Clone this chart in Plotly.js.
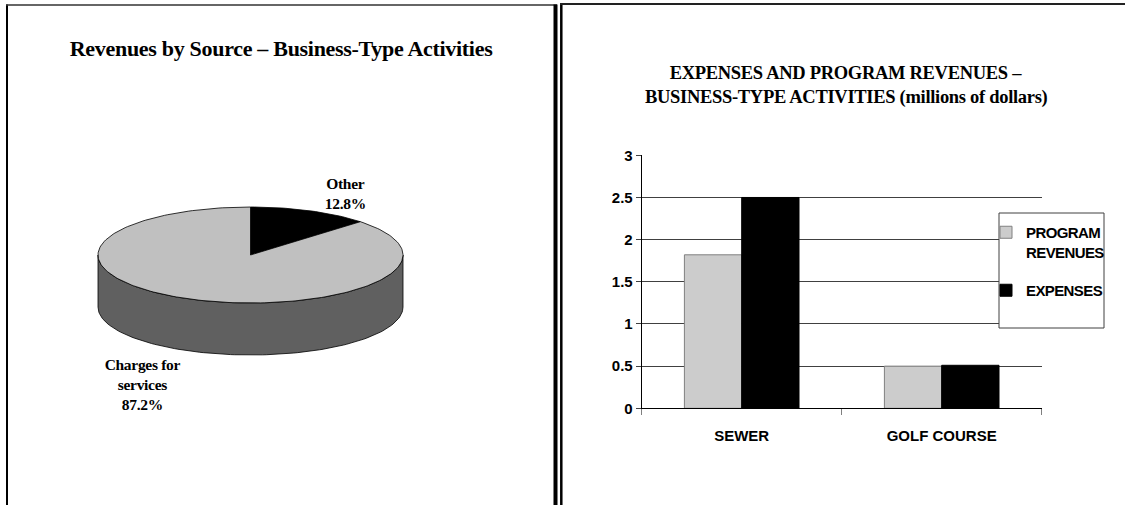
<!DOCTYPE html>
<html><head><meta charset="utf-8">
<script src="https://cdn.plot.ly/plotly-3.0.1.min.js"></script>
<style>
html,body{margin:0;padding:0;background:#fff}#chart{width:1125px;height:505px}
#chart .annotation-text{letter-spacing:-0.3px}
#chart .legendtext{letter-spacing:-0.6px}
</style>
</head><body><div id="chart"></div>
<script>
// ---------- data ----------
const pieLabels = ["Charges for<br>services", "Other"];
const pieValues = [87.2, 12.8];
const pieTopColors = ["#c0c0c0", "#000000"];
const pieSideColors = ["#606060", "#000000"];
const pieOrder = [1, 0]; // "Other" starts at 12 o'clock, clockwise

const barCategories = ["SEWER", "GOLF COURSE"];
const programRevenues = [1.82, 0.50];
const expenses = [2.50, 0.51];
const yTickVals = [0, 0.5, 1, 1.5, 2, 2.5, 3];
const yTickText = ["0", "0.5", "1", "1.5", "2", "2.5", "3"];

// ---------- pie geometry (pixel-space axes x2/y2) ----------
const W = 1125, H = 505;
const cx = 250.5, cy = 255, rx = 152.5, ry = 48, depth = 52;
function pt(frac, dy) {
  const t = frac * 2 * Math.PI;
  return [cx + rx * Math.sin(t), cy - ry * Math.cos(t) + dy];
}
function arc(a, b, dy) {
  const n = Math.max(2, Math.ceil((b - a) * 240));
  const out = [];
  for (let i = 0; i <= n; i++) out.push(pt(a + (b - a) * i / n, dy));
  return out;
}
const total = pieValues.reduce((s, v) => s + v, 0);
let acc = 0;
const ranges = [];
pieOrder.forEach(i => { const a = acc / total; acc += pieValues[i]; ranges[i] = [a, acc / total]; });

const traces = [];
// side walls (front half only: frac 0.25..0.75)
pieOrder.forEach(i => {
  const s = Math.max(ranges[i][0], 0.25), e = Math.min(ranges[i][1], 0.75);
  if (s < e) {
    const poly = arc(s, e, 0).concat(arc(s, e, depth).reverse());
    poly.push(poly[0]);
    traces.push({type: 'scatter', mode: 'lines', xaxis: 'x2', yaxis: 'y2',
      x: poly.map(p => p[0]), y: poly.map(p => p[1]), fill: 'toself',
      fillcolor: pieSideColors[i], line: {color: '#000', width: 0.8},
      hoverinfo: 'skip', showlegend: false});
  }
});
// top faces
pieOrder.forEach(i => {
  const poly = [[cx, cy]].concat(arc(ranges[i][0], ranges[i][1], 0));
  poly.push([cx, cy]);
  traces.push({type: 'scatter', mode: 'lines', xaxis: 'x2', yaxis: 'y2',
    x: poly.map(p => p[0]), y: poly.map(p => p[1]), fill: 'toself',
    fillcolor: pieTopColors[i], line: {color: '#000', width: 0.8},
    hoverinfo: 'skip', showlegend: false});
});

// ---------- bars ----------
traces.push({type: 'bar', name: 'PROGRAM<br>REVENUES', x: barCategories, y: programRevenues,
  marker: {color: '#cccccc', line: {color: '#808080', width: 1}}, legendgroup: 'a', hoverinfo: 'skip'});
traces.push({type: 'bar', name: 'EXPENSES', x: barCategories, y: expenses,
  marker: {color: '#000000', line: {color: '#000000', width: 1}}, legendgroup: 'b', hoverinfo: 'skip'});

const serifB = {family: 'Liberation Serif, Times New Roman, serif', color: '#000', weight: 700};
const sansB = {family: 'Liberation Sans, Arial, sans-serif', color: '#000', weight: 700};
const px = x => x / W, py = y => 1 - y / H;

const annotations = [
  {xref: 'x2', yref: 'y2', x: 281, y: 48, text: 'Revenues by Source – Business-Type Activities',
   showarrow: false, font: Object.assign({size: 22}, serifB)},
  {xref: 'x2', yref: 'y2', x: 846, y: 73, text: 'EXPENSES AND PROGRAM REVENUES –',
   showarrow: false, font: Object.assign({size: 18.5}, serifB)},
  {xref: 'x2', yref: 'y2', x: 846, y: 97, text: 'BUSINESS-TYPE ACTIVITIES (millions of dollars)',
   showarrow: false, font: Object.assign({size: 18.5}, serifB)},
  {xref: 'x2', yref: 'y2', x: 345, y: 193, text: pieLabels[1] + '<br>' + pieValues[1].toFixed(1) + '%',
   showarrow: false, font: Object.assign({size: 15.5}, serifB)},
  {xref: 'x2', yref: 'y2', x: 142, y: 384.5, text: pieLabels[0] + '<br>' + pieValues[0].toFixed(1) + '%',
   showarrow: false, font: Object.assign({size: 15.5}, serifB)}
];

const shapes = [
  // left panel frame
  {type: 'line', xref: 'paper', yref: 'paper', x0: px(7), x1: px(7), y0: py(4.5), y1: py(505), line: {color: '#000', width: 2}},
  {type: 'line', xref: 'paper', yref: 'paper', x0: px(6), x1: px(557), y0: py(5), y1: py(5), line: {color: '#333', width: 1.5}},
  {type: 'line', xref: 'paper', yref: 'paper', x0: px(555.5), x1: px(555.5), y0: py(4.5), y1: py(505), line: {color: '#000', width: 4}},
  // right panel frame
  {type: 'line', xref: 'paper', yref: 'paper', x0: px(561.3), x1: px(561.3), y0: py(3), y1: py(505), line: {color: '#000', width: 2.5}},
  {type: 'line', xref: 'paper', yref: 'paper', x0: px(560), x1: px(1125), y0: py(4), y1: py(4), line: {color: '#222', width: 2}},
  // legend box
  {type: 'rect', xref: 'paper', yref: 'paper', x0: px(999), x1: px(1104), y0: py(328), y1: py(213),
   fillcolor: '#fff', line: {color: '#404040', width: 1}, layer: 'above'}
];

const layout = {
  width: W, height: H, margin: {l: 0, r: 0, t: 0, b: 0},
  paper_bgcolor: '#fff', plot_bgcolor: 'rgba(0,0,0,0)',
  showlegend: true,
  barmode: 'group', bargap: 0.427, bargroupgap: 0,
  xaxis: {domain: [px(641.7), px(1041.7)], type: 'category', showgrid: false,
    showline: true, linecolor: '#000', linewidth: 1, ticks: 'outside', tickson: 'boundaries',
    ticklen: 6, tickcolor: '#808080', tickwidth: 1.5, ticklabelstandoff: 14,
    tickfont: Object.assign({size: 15}, sansB), fixedrange: true},
  yaxis: {domain: [py(408.3), py(155.3)], range: [0, 3], tickvals: yTickVals, ticktext: yTickText,
    showgrid: true, gridcolor: '#404040', gridwidth: 1, zeroline: false,
    showline: true, linecolor: '#000', linewidth: 1, ticks: 'outside', ticklen: 5, tickcolor: '#404040',
    tickfont: Object.assign({size: 15}, sansB), fixedrange: true},
  xaxis2: {domain: [0, 1], range: [0, W], visible: false, fixedrange: true},
  yaxis2: {domain: [0, 1], range: [H, 0], visible: false, fixedrange: true},
  legend: {x: px(986), y: py(216), xanchor: 'left', yanchor: 'top', bgcolor: 'rgba(0,0,0,0)',
    borderwidth: 0, font: Object.assign({size: 15}, sansB), traceorder: 'grouped',
    tracegroupgap: 16, valign: 'top'},
  annotations: annotations,
  shapes: shapes
};

Plotly.newPlot('chart', traces, layout, {staticPlot: true, displayModeBar: false});
</script></body></html>
